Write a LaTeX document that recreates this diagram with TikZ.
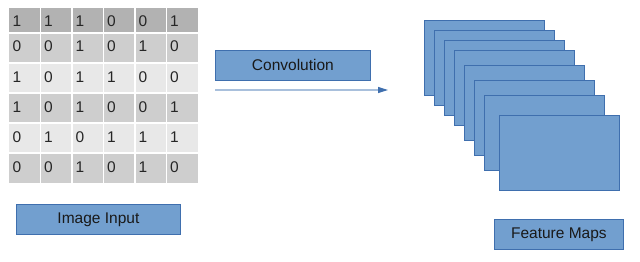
\documentclass[tikz,border=0pt]{standalone}
\usepackage{fontspec}
\setmainfont{Liberation Sans}
\usetikzlibrary{arrows.meta}

\definecolor{boxblue}{HTML}{729FCF}
\definecolor{boxedge}{HTML}{3F6FAE}
\definecolor{rowdark}{HTML}{B2B2B2}
\definecolor{rowmid}{HTML}{CECECE}
\definecolor{rowlight}{HTML}{E8E8E8}
\definecolor{arrowline}{HTML}{A9C0DC}

\tikzset{
  labelbox/.style={draw=boxedge, fill=boxblue, line width=0.8pt, inner sep=0pt, anchor=north west,
    font=\fontsize{15.5}{18}\selectfont, text=black!90},
  featmap/.style={draw=boxedge, fill=boxblue, line width=0.8pt, inner sep=0pt, anchor=north west,
    minimum width=120pt, minimum height=75pt},
  digit/.style={anchor=base west, inner sep=0pt, font=\fontsize{15.5}{18}\selectfont, text=black!85}
}

\begin{document}
\begin{tikzpicture}[x=1pt, y=-1pt]
            \useasboundingbox (0,0) rectangle (640,262);

            % Input matrix, shaded rows
            \fill[rowdark] (9,8) rectangle (198,33);
            \fill[rowmid] (9,33) rectangle (198,63);
            \fill[rowlight] (9,63) rectangle (198,93);
            \fill[rowmid] (9,93) rectangle (198,123);
            \fill[rowlight] (9,123) rectangle (198,153);
            \fill[rowmid] (9,153) rectangle (198,183);
            \foreach \x in {40.5,72,103.5,135,166.5} \draw[white, line width=1.5pt] (\x,8) -- (\x,183); % column gaps
            \foreach \y in {33,63,93,123,153} \draw[white, line width=1.5pt] (9,\y) -- (198,\y); % row gaps

            % Matrix entries
            \foreach \vals [count=\r] in {{1,1,1,0,0,1},{0,0,1,0,1,0},{1,0,1,1,0,0},{1,0,1,0,0,1},{0,1,0,1,1,1},{0,0,1,0,1,0}} {
                \pgfmathsetmacro\base{\r==1 ? 27 : 30*\r-8}
                \foreach \v [count=\c] in \vals
                    \node[digit] (d\r\c) at ({12.5+31.5*(\c-1)},\base) {\v};
            }

            % Stack of feature maps
            \foreach \x/\y [count=\i] in {424/20,434/30,444/40,454/50,464/65,474/80,484/95,499/115}
                \node[featmap] (map\i) at (\x,\y) {};

            % Labels
            \node[labelbox, minimum width=164pt, minimum height=30pt] (input) at (16,204) {Image Input};
            \node[labelbox, minimum width=155pt, minimum height=30pt] (conv) at (215,50) {Convolution};
            \node[labelbox, minimum width=129pt, minimum height=30pt] (maps) at (494,219) {Feature Maps};

            % Convolution arrow
            \coordinate (convtail) at (215,90);
            \coordinate (convhead) at (388,90);
            \draw[arrowline, line width=1.2pt, -{Triangle[length=10pt, width=6pt, color=boxedge]}] (convtail) -- (convhead);

\end{tikzpicture}
\end{document}
